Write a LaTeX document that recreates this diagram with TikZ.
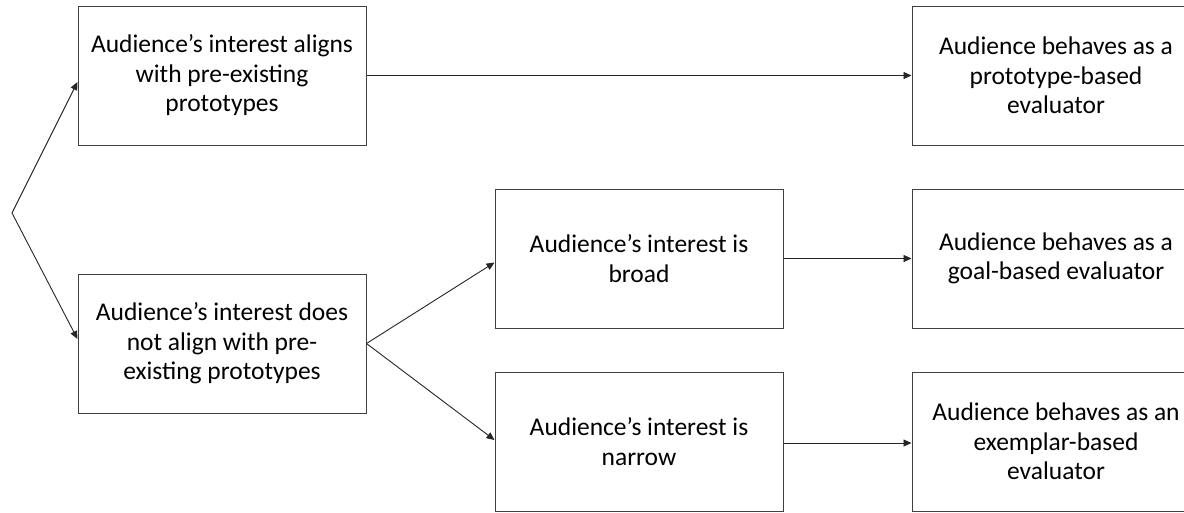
\documentclass[tikz,border=0pt]{standalone}
\usepackage{fontspec}
\setmainfont{Carlito}
\usetikzlibrary{arrows.meta}
\begin{document}
\begin{tikzpicture}[x=1pt,y=-1pt,
  box/.style={draw=black!75, line width=1pt, minimum width=288pt, minimum height=139pt,
    align=center, inner sep=0pt, font=\fontsize{25.5}{29.5}\selectfont},
  arr/.style={draw=black!85, line width=0.9pt, -{Triangle[length=8pt,width=7pt]}}]
\fill[white] (0,0) rectangle (1184,512);
\clip (0,0) rectangle (1184,512);
\node[box] (A) at (222,75.5) {Audience’s interest aligns\\with pre-existing\\prototypes};
\node[box] (B) at (1056,75.5) {Audience behaves as a\\prototype-based\\evaluator};
\node[box] (C) at (222,343.5) {Audience’s interest does\\not align with pre-\\existing prototypes};
\node[box] (D) at (639,258.5) {Audience’s interest is\\broad};
\node[box] (E) at (1056,258.5) {Audience behaves as a\\goal-based evaluator};
\node[box] (F) at (639,441.5) {Audience’s interest is\\narrow};
\node[box] (G) at (1056,441.5) {Audience behaves as an\\exemplar-based\\evaluator};
\coordinate (J) at (12,213);
\draw[arr] (J) -- ([yshift=-6.5pt]A.west);
\draw[arr] (J) -- ([yshift=4.5pt]C.west);
\draw[arr] (C.east) -- ([yshift=-4pt]D.west);
\draw[arr] (C.east) -- ([yshift=1.5pt]F.west);
\draw[arr] (A.east) -- (B.west);
\draw[arr] (D.east) -- (E.west);
\draw[arr] ([yshift=-1.5pt]F.east) -- ([yshift=-1.5pt]G.west);
\end{tikzpicture}
\end{document}
